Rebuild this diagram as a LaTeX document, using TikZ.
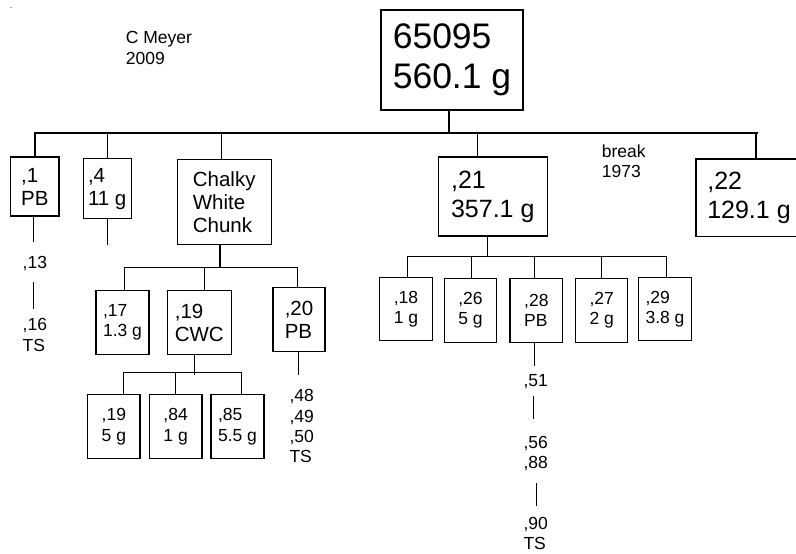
\documentclass[tikz,border=0pt]{standalone}
\usepackage{fontspec}
\setmainfont{Liberation Sans}
\begin{document}
\begin{tikzpicture}[x=1pt,y=-1pt]
\tikzset{
  ln/.style={line width=1.1pt, line cap=rect},
  bx/.style n args={2}{draw, line width=1.1pt, inner sep=0pt, align=left, minimum width=#1pt, minimum height=#2pt},
  fbig/.style={font=\fontsize{35.5}{40}\selectfont},
  fmid/.style={font=\fontsize{25}{29}\selectfont},
  fnorm/.style={font=\fontsize{20.5}{23}\selectfont},
  fsm/.style={font=\fontsize{17.5}{20.3}\selectfont},
  lbl/.style={anchor=west, inner sep=0pt, align=left, fsm}
}
\useasboundingbox (0,0) rectangle (796,554);
\fill[gray!70] (10,6.5) rectangle (11.5,8);

% texts
\node[lbl] (author) at (125.7,48) {C Meyer\\2009};
\node[lbl] (brk) at (601.7,161) {break\\1973};

% boxes
\node[bx={142}{100}, fbig] (root) at (452,60) {65095\\560.1 g};
\node[bx={48.3}{59}, fnorm] (n1) at (34.85,186.5) {,1\\PB};
\node[bx={48.3}{60}, fnorm] (n4) at (107.2,188.7) {,4\\11 g};
\node[bx={94.3}{85.4}, fnorm] (chalky) at (224.2,202) {Chalky\\White\\Chunk};
\node[bx={109}{79}, fmid] (n21) at (492.8,196.5) {,21\\357.1 g};
\node[bx={106}{77.7}, fmid] (n22) at (749,197.8) {,22\\129.1 g};

\node[bx={53}{64.4}, fsm] (n17) at (122.5,322.5) {,17\\1.3 g};
\node[bx={64}{64.4}, fnorm] (n19c) at (199.3,322.5) {,19\\CWC};
\node[bx={52}{64}, fnorm] (n20) at (299,319.7) {,20\\PB};

\node[bx={52.3}{64}, fsm] (n19) at (113.85,426.7) {,19\\5 g};
\node[bx={52.7}{64}, fsm] (n84) at (175.65,426.7) {,84\\1 g};
\node[bx={53}{64}, fsm] (n85) at (237.5,426.7) {,85\\5.5 g};

\node[bx={52.6}{63.4}, fsm] (n18) at (406,309) {,18\\1 g};
\node[bx={51.6}{63.6}, fsm] (n26) at (470.5,310.5) {,26\\5 g};
\node[bx={52.7}{63.6}, fsm] (n28) at (536.35,310.5) {,28\\PB};
\node[bx={52}{63.6}, fsm] (n27) at (601.7,310.5) {,27\\2 g};
\node[bx={52.6}{63.4}, fsm] (n29) at (665,309) {,29\\3.8 g};

% top level bus
\coordinate (j0) at (449,133);
\coordinate (bL) at (35,133);
\coordinate (bR) at (757,133);
\coordinate (d1) at (35,133);
\coordinate (d4) at (107.3,133);
\coordinate (dch) at (221.7,133);
\coordinate (d21) at (477.5,133);
\coordinate (d22) at (756,133);
\draw[ln] (bL) -- (bR);
\draw[ln] (j0 |- root.south) -- (j0);
\draw[ln] (d1) -- (d1 |- n1.north);
\draw[ln] (d4) -- (d4 |- n4.north);
\draw[ln] (dch) -- (dch |- chalky.north);
\draw[ln] (d21) -- (d21 |- n21.north);
\draw[ln] (d22) -- (d22 |- n22.north);

% chalky subtree
\coordinate (cj) at (220,267.7);
\coordinate (cL) at (124.7,267.7);
\coordinate (cR) at (297.7,267.7);
\coordinate (d19c) at (204.7,267.7);
\draw[ln] (cL) -- (cR);
\draw[ln] (cj |- chalky.south) -- (cj);
\draw[ln] (cL) -- (cL |- n17.north);
\draw[ln] (d19c) -- (d19c |- n19c.north);
\draw[ln] (cR) -- (cR |- n20.north);

% CWC subtree
\coordinate (wj) at (194.7,374.5);
\coordinate (wL) at (123.3,372.7);
\coordinate (wR) at (241.5,372.7);
\coordinate (d84) at (175.7,372.7);
\draw[ln] (wL) -- (wR);
\draw[ln] (wj |- n19c.south) -- (wj);
\draw[ln] (wL) -- (wL |- n19.north);
\draw[ln] (d84) -- (d84 |- n84.north);
\draw[ln] (wR) -- (wR |- n85.north);

% ,21 subtree
\coordinate (kj) at (487.3,256.3);
\coordinate (kL) at (407.7,256.3);
\coordinate (kR) at (666.7,256.3);
\coordinate (d26) at (471.7,256.3);
\coordinate (d28) at (534.7,256.3);
\coordinate (d27) at (601.7,256.3);
\draw[ln] (kL) -- (kR);
\draw[ln] (kj |- n21.south) -- (kj);
\draw[ln] (kL) -- (kL |- n18.north);
\draw[ln] (d26) -- (d26 |- n26.north);
\draw[ln] (d28) -- (d28 |- n28.north);
\draw[ln] (d27) -- (d27 |- n27.north);
\draw[ln] (kR) -- (kR |- n29.north);

% ,1 branch
\coordinate (e1) at (33.3,241);
\draw[ln] (e1 |- n1.south) -- (e1);
\node[lbl] (t13) at (22.5,263.3) {,13};
\coordinate (e13a) at (33.3,282.3);
\coordinate (e13b) at (33.3,308.3);
\draw[ln] (e13a) -- (e13b);
\node[lbl, font=\fontsize{17.5}{21}\selectfont] (t16) at (22.5,334.5) {,16\\TS};

% ,4 branch
\coordinate (e4) at (107.3,244.3);
\draw[ln] (e4 |- n4.south) -- (e4);

% ,20 branch
\coordinate (e20) at (298.7,374.3);
\draw[ln] (e20 |- n20.south) -- (e20);
\node[lbl] (t48) at (289.3,426.2) {,48\\,49\\,50\\TS};

% ,28 branch
\coordinate (e28) at (534.7,365);
\draw[ln] (e28 |- n28.south) -- (e28);
\node[lbl] (t51) at (523.3,381.7) {,51};
\coordinate (e51a) at (533.3,396.7);
\coordinate (e51b) at (533.3,418.3);
\draw[ln] (e51a) -- (e51b);
\node[lbl] (t56) at (523.3,453.3) {,56\\,88};
\coordinate (e56a) at (536.7,483.3);
\coordinate (e56b) at (536.7,505);
\draw[ln] (e56a) -- (e56b);
\node[lbl] (t90) at (523.3,533.7) {,90\\TS};
\end{tikzpicture}
\end{document}
